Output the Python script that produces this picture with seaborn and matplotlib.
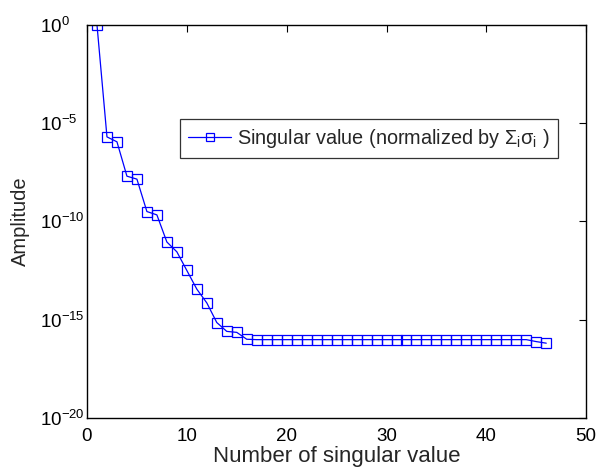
import numpy as np
import pandas as pd
import matplotlib
matplotlib.use("Agg")
import matplotlib.pyplot as plt
import seaborn as sns
from matplotlib.ticker import FixedLocator, NullLocator

# Normalized singular values (log10 of amplitude) for each index
index = list(range(1, 47))
log_amp = [0.0, -5.7, -5.95, -7.7, -7.85, -9.5, -9.67, -11.05, -11.55, -12.5,
           -13.45, -14.15, -15.15, -15.6, -15.65, -16.0, -16.02, -16.02, -16.02, -16.02,
           -16.02, -16.02, -16.02, -16.02, -16.02, -16.02, -16.02, -16.02, -16.02, -16.02,
           -16.02, -16.02, -16.02, -16.02, -16.02, -16.02, -16.02, -16.02, -16.02, -16.02,
           -16.02, -16.02, -16.02, -16.02, -16.12, -16.2]
amplitude = [10.0 ** v for v in log_amp]

x_ticks = [0, 10, 20, 30, 40, 50]
y_exponents = [-20, -15, -10, -5, 0]

sns.set_style("white")
plt.rcParams["font.family"] = ["Liberation Sans", "DejaVu Sans"]
plt.rcParams["mathtext.fontset"] = "custom"
plt.rcParams["mathtext.rm"] = "Liberation Sans"
plt.rcParams["mathtext.it"] = "Liberation Sans:italic"
plt.rcParams["mathtext.default"] = "regular"

df = pd.DataFrame({"n": index, "amp": amplitude})

fig = plt.figure(figsize=(6.0, 4.7), dpi=100)
ax = fig.add_axes([0.145, 0.111, 0.832, 0.836])

sns.lineplot(data=df, x="n", y="amp", ax=ax, color="#0000ff", linewidth=0.9,
             marker="s", markersize=7.5, markerfacecolor="none",
             markeredgecolor="#0000ff", markeredgewidth=0.9,
             label=r"Singular value (normalized by $\Sigma_{i}\sigma_{i}$ )")

ax.set_yscale("log")
ax.set_xlim(0, 50)
ax.set_ylim(1e-20, 1e0)
ax.xaxis.set_major_locator(FixedLocator(x_ticks))
ax.yaxis.set_major_locator(FixedLocator([10.0 ** e for e in y_exponents]))
ax.yaxis.set_minor_locator(NullLocator())
ax.xaxis.set_minor_locator(NullLocator())
ax.set_yticklabels([r"$10^{%d}$" % e for e in y_exponents])

ax.tick_params(direction="in", length=5, width=0.8, top=True, right=True,
               labelsize=13.5, colors="black")
ax.tick_params(axis="x", pad=7)
ax.tick_params(axis="y", pad=34)
for lbl in ax.get_yticklabels():
    lbl.set_horizontalalignment("left")
for s in ax.spines.values():
    s.set_color("black")
    s.set_linewidth(1.0)

ax.set_xlabel("Number of singular value", fontsize=16, labelpad=1)
ax.set_ylabel("Amplitude", fontsize=14.5, labelpad=7)

leg = ax.legend(loc="upper left", bbox_to_anchor=(0.186, 0.761), fontsize=14.3,
                frameon=True, fancybox=False, borderpad=0.4, handlelength=2.2,
                handletextpad=0.3, borderaxespad=0)
leg.get_frame().set_edgecolor("black")
leg.get_frame().set_linewidth(0.9)
for h in leg.legend_handles:
    h.set_markersize(6)

fig.savefig("out.png", dpi=100)
